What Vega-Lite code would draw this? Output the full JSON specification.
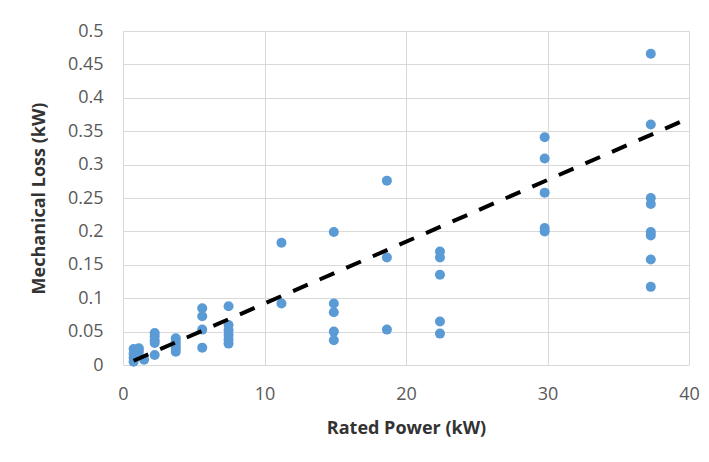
{
  "$schema": "https://vega.github.io/schema/vega-lite/v6.json",
  "autosize": {"type": "none"},
  "padding": {"left": 123, "top": 31, "right": 20, "bottom": 97},
  "width": 566,
  "height": 334,
  "background": "white",
  "config": {
    "view": {"stroke": null},
    "font": "Open Sans",
    "axis": {
      "gridColor": "#D9D9D9",
      "gridWidth": 1,
      "domain": false,
      "ticks": false,
      "labelOverlap": false,
      "labelFont": "Open Sans",
      "labelFontSize": 18,
      "labelColor": "#595959",
      "titleFont": "Open Sans",
      "titleFontSize": 18,
      "titleFontWeight": "bold",
      "titleColor": "#333333"
    }
  },
  "datasets": {
    "pts": [
      {"power": 0.75, "loss": 0.024}, {"power": 0.75, "loss": 0.017}, {"power": 0.75, "loss": 0.011}, {"power": 0.75, "loss": 0.005},
      {"power": 1.12, "loss": 0.025}, {"power": 1.12, "loss": 0.02},
      {"power": 1.49, "loss": 0.008},
      {"power": 2.24, "loss": 0.048}, {"power": 2.24, "loss": 0.043}, {"power": 2.24, "loss": 0.037}, {"power": 2.24, "loss": 0.033}, {"power": 2.24, "loss": 0.015},
      {"power": 3.73, "loss": 0.040}, {"power": 3.73, "loss": 0.035}, {"power": 3.73, "loss": 0.030}, {"power": 3.73, "loss": 0.025}, {"power": 3.73, "loss": 0.020},
      {"power": 5.6, "loss": 0.085}, {"power": 5.6, "loss": 0.073}, {"power": 5.6, "loss": 0.053}, {"power": 5.6, "loss": 0.026},
      {"power": 7.46, "loss": 0.088}, {"power": 7.46, "loss": 0.060}, {"power": 7.46, "loss": 0.052}, {"power": 7.46, "loss": 0.045}, {"power": 7.46, "loss": 0.038}, {"power": 7.46, "loss": 0.032},
      {"power": 11.2, "loss": 0.183}, {"power": 11.2, "loss": 0.092},
      {"power": 14.9, "loss": 0.199}, {"power": 14.9, "loss": 0.092}, {"power": 14.9, "loss": 0.079}, {"power": 14.9, "loss": 0.050}, {"power": 14.9, "loss": 0.037},
      {"power": 18.65, "loss": 0.276}, {"power": 18.65, "loss": 0.161}, {"power": 18.65, "loss": 0.053},
      {"power": 22.4, "loss": 0.170}, {"power": 22.4, "loss": 0.161}, {"power": 22.4, "loss": 0.135}, {"power": 22.4, "loss": 0.065}, {"power": 22.4, "loss": 0.047},
      {"power": 29.8, "loss": 0.341}, {"power": 29.8, "loss": 0.309}, {"power": 29.8, "loss": 0.258}, {"power": 29.8, "loss": 0.205}, {"power": 29.8, "loss": 0.200},
      {"power": 37.3, "loss": 0.466}, {"power": 37.3, "loss": 0.360}, {"power": 37.3, "loss": 0.250}, {"power": 37.3, "loss": 0.241}, {"power": 37.3, "loss": 0.199}, {"power": 37.3, "loss": 0.194}, {"power": 37.3, "loss": 0.158}, {"power": 37.3, "loss": 0.117}
    ],
    "trend": [
      {"power": 0.75, "loss": 0.0064},
      {"power": 40, "loss": 0.3695}
    ]
  },
  "encoding": {
    "x": {"field": "power", "type": "quantitative", "title": "Rated Power (kW)",
          "scale": {"domain": [0, 40], "nice": false},
          "axis": {"tickCount": 4, "labelPadding": 20, "titlePadding": 16, "labelFlush": false}},
    "y": {"field": "loss", "type": "quantitative", "title": "Mechanical Loss (kW)",
          "scale": {"domain": [0, 0.5], "nice": false},
          "axis": {"tickCount": 10, "format": ".2~f", "labelPadding": 20, "titlePadding": 19, "labelFlush": false}}
  },
  "layer": [
    {
      "data": {"name": "pts"},
      "mark": {"type": "point", "filled": true, "size": 100, "color": "#5B9BD5", "opacity": 1}
    },
    {
      "data": {"name": "trend"},
      "mark": {"type": "line", "color": "black", "strokeWidth": 4, "strokeDash": [16, 13], "clip": true}
    }
  ]
}
